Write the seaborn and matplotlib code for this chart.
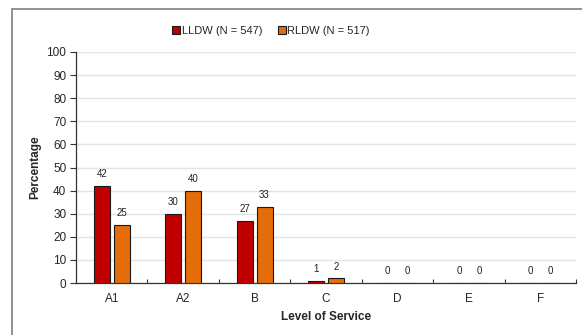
import seaborn as sns
import matplotlib.pyplot as plt
import pandas as pd
from matplotlib.patches import Rectangle

categories = ['A1', 'A2', 'B', 'C', 'D', 'E', 'F']
lldw = [42, 30, 27, 1, 0, 0, 0]
rldw = [25, 40, 33, 2, 0, 0, 0]
series = ['LLDW (N = 547)', 'RLDW (N = 517)']
colors = ['#C00000', '#E46C0A']

df = pd.DataFrame({
    'los': categories * 2,
    'pct': lldw + rldw,
    'group': [series[0]] * len(categories) + [series[1]] * len(categories),
})

sns.set_style('white')
plt.rcParams['font.family'] = ['Liberation Sans', 'DejaVu Sans']

fig = plt.figure(figsize=(5.82, 3.35), dpi=100)
fig.patches.append(Rectangle((0.02, -0.1), 1.1, 1.073, transform=fig.transFigure,
                             fill=False, edgecolor='#7f7f7f', linewidth=1.2))
ax = fig.add_axes([0.1306, 0.155, 0.859, 0.69])

sns.barplot(data=df, x='los', y='pct', hue='group', palette=colors,
            width=0.56, gap=0.2, edgecolor='#1a1a1a', linewidth=0.8,
            saturation=1, ax=ax, zorder=3)

# value labels
for cont, vals in zip(ax.containers, [lldw, rldw]):
    for bar, v in zip(cont, vals):
        ax.annotate(str(v), (bar.get_x() + bar.get_width() / 2, bar.get_height()),
                    xytext=(0, 5), textcoords='offset points',
                    ha='center', va='bottom', fontsize=7, color='#222222')

ax.set_ylim(0, 100)
ax.set_xlim(-0.5, len(categories) - 0.5)
ax.set_yticks(range(0, 101, 10))
ax.yaxis.grid(True, color='#e3e3e3', linewidth=1, zorder=0)
ax.set_axisbelow(True)
for s in ['top', 'right']:
    ax.spines[s].set_visible(False)
for s in ['left', 'bottom']:
    ax.spines[s].set_color('#333333')
    ax.spines[s].set_linewidth(0.9)

ax.tick_params(axis='y', left=True, length=4, width=0.8, color='#333333',
               labelsize=8.5, pad=3)
ax.tick_params(axis='x', bottom=False, labelsize=8.5, pad=4)
ax.set_xticks([i + 0.5 for i in range(len(categories))], minor=True)
ax.tick_params(axis='x', which='minor', bottom=True, direction='in', length=3,
               width=0.8, color='#333333')

ax.set_xlabel('Level of Service', fontsize=8.5, fontweight='bold', labelpad=4)
ax.set_ylabel('Percentage', fontsize=8.5, fontweight='bold', labelpad=4)

ax.legend(loc='lower center', bbox_to_anchor=(0.39, 1.05), ncol=2, frameon=False,
          fontsize=8, handlelength=0.7, handleheight=0.7, handletextpad=0.15,
          columnspacing=1.4, borderaxespad=0)

fig.savefig('out.png', dpi=100)
